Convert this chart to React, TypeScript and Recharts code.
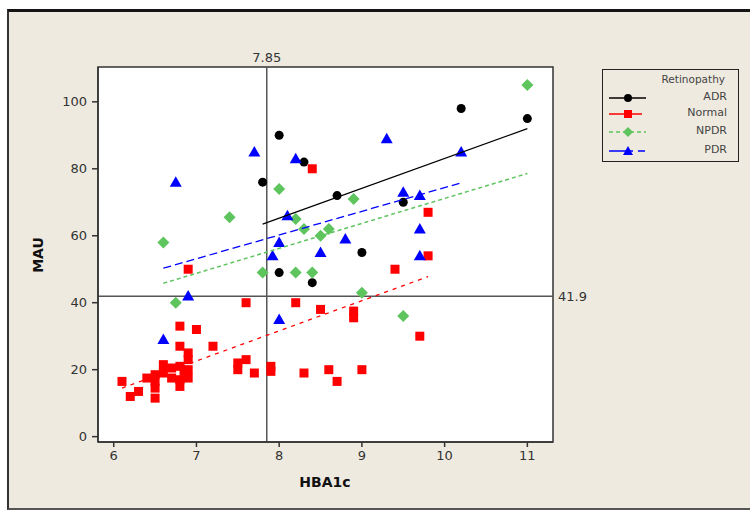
import React from "react";
import {
  ScatterChart,
  Scatter,
  XAxis,
  YAxis,
  CartesianGrid,
  ReferenceLine,
  ReferenceArea
} from "recharts";

// HbA1c vs MAU by retinopathy group, [HBA1c, MAU]
const adrPoints: [number, number][] = [
  [7.8, 76], [8.0, 90], [8.3, 82], [8.0, 49], [8.4, 46],
  [8.7, 72], [9.0, 55], [9.5, 70], [10.2, 98], [11.0, 95]
];

const normalPoints: [number, number][] = [
  [8.4, 80], [9.8, 67], [9.8, 54], [6.9, 50], [9.4, 50], [7.6, 40], [8.2, 40],
  [8.5, 38], [8.9, 37.5], [8.9, 35.5], [9.7, 30],
  [7.2, 27], [7.5, 22], [7.5, 20], [7.6, 23], [7.7, 19], [7.9, 21], [7.9, 19.5],
  [8.3, 19], [8.6, 20], [8.7, 16.5], [9.0, 20],
  [6.1, 16.5], [6.2, 12], [6.3, 13.5], [6.4, 17.5], [6.5, 11.5], [6.5, 14.5],
  [6.5, 16.5], [6.5, 18.5], [6.6, 21.5], [6.6, 19], [6.7, 20.5], [6.7, 17.5],
  [6.8, 33], [7.0, 32], [6.8, 27], [6.9, 25], [6.9, 23], [6.8, 21], [6.85, 19.5],
  [6.8, 17], [6.9, 17.5], [6.8, 15], [6.9, 20]
];

const npdrPoints: [number, number][] = [
  [11.0, 105], [8.0, 74], [7.4, 65.5], [8.2, 65], [8.9, 71], [8.3, 62], [8.6, 62],
  [8.5, 60], [6.6, 58], [7.8, 49], [8.2, 49], [8.4, 49], [6.75, 40], [9.0, 43], [9.5, 36]
];

const pdrPoints: [number, number][] = [
  [7.7, 85], [6.75, 76], [8.2, 83], [9.3, 89], [10.2, 85], [8.1, 66], [8.0, 58],
  [7.92, 54], [8.5, 55], [8.8, 59], [9.5, 73], [9.7, 72], [9.7, 62], [9.7, 54],
  [6.9, 42], [8.0, 35], [6.6, 29]
];

// fitted regression lines (end points)
const adrFit: [number, number][] = [[7.8, 63.5], [11.0, 92]];
const normalFit: [number, number][] = [[6.1, 14.5], [9.8, 47.8]];
const npdrFit: [number, number][] = [[6.6, 45.8], [11.0, 78.6]];
const pdrFit: [number, number][] = [[6.6, 50.3], [10.2, 75.8]];

const xTicks = [6, 7, 8, 9, 10, 11];
const yTicks = [0, 20, 40, 60, 80, 100];
const hbaCut = 7.85;
const mauCut = 41.9;

const X_MIN = 5.81;
const X_MAX = 11.31;
const Y_MIN = -1.6;
const Y_MAX = 110.4;

const FONT = '"DejaVu Sans", Verdana, sans-serif';
const GREEN = "#5EC45E";

const toRows = (pts: [number, number][]) => pts.map(([x, y]) => ({ hba1c: x, mau: y }));

const Dot = (p: any) => <circle cx={p.cx} cy={p.cy} r={4.5} fill="#000" />;
const Square = (p: any) => <rect x={p.cx - 4.5} y={p.cy - 4.5} width={9} height={9} fill="#FF0000" />;
const Diamond = (p: any) => (
  <polygon
    points={`${p.cx},${p.cy - 6} ${p.cx + 6},${p.cy} ${p.cx},${p.cy + 6} ${p.cx - 6},${p.cy}`}
    fill={GREEN}
  />
);
const Triangle = (p: any) => (
  <polygon
    points={`${p.cx},${p.cy - 6} ${p.cx + 6},${p.cy + 4.5} ${p.cx - 6},${p.cy + 4.5}`}
    fill="#0000FF"
  />
);
const NoMark = () => <g />;

const tickStyle = { fill: "#333", fontSize: 13, fontFamily: FONT };

function LegendBox() {
  const rows = [
    { name: "ADR", color: "#000", dash: undefined, y: 28 },
    { name: "Normal", color: "#FF0000", dash: undefined, y: 44 },
    { name: "NPDR", color: GREEN, dash: "4 3", y: 62 },
    { name: "PDR", color: "#0000FF", dash: "24 5 7 100", y: 81 }
  ];
  return (
    <div
      style={{
        position: "absolute",
        left: 602,
        top: 69,
        width: 135,
        height: 91,
        border: "1.5px solid #222",
        fontFamily: FONT,
        color: "#444"
      }}
    >
      <div style={{ position: "absolute", right: 13, top: 3, fontSize: 10.5 }}>Retinopathy</div>
      <svg width={60} height={91} style={{ position: "absolute", left: 0, top: 0 }}>
        {rows.map((r) => (
          <g key={r.name}>
            <line
              x1={6}
              x2={r.name === "Normal" ? 39 : 43}
              y1={r.y}
              y2={r.y}
              stroke={r.color}
              strokeWidth={1.5}
              strokeDasharray={r.dash}
            />
            {r.name === "ADR" && <circle cx={25} cy={r.y} r={4} fill="#000" />}
            {r.name === "Normal" && <rect x={21} y={r.y - 4} width={8} height={8} fill="#FF0000" />}
            {r.name === "NPDR" && (
              <polygon points={`25,${r.y - 5} 30,${r.y} 25,${r.y + 5} 20,${r.y}`} fill={GREEN} />
            )}
            {r.name === "PDR" && (
              <polygon points={`25,${r.y - 5} 30,${r.y + 4} 20,${r.y + 4}`} fill="#0000FF" />
            )}
          </g>
        ))}
      </svg>
      {rows.map((r) => (
        <div
          key={r.name}
          style={{ position: "absolute", right: 11, top: r.y - 8, fontSize: 11, lineHeight: "14px" }}
        >
          {r.name}
        </div>
      ))}
    </div>
  );
}

export default function App() {
  return (
    <div
      style={{
        position: "absolute",
        left: 0,
        top: 0,
        width: 750,
        height: 510,
        background: "#fff",
        overflow: "hidden",
        fontFamily: FONT
      }}
    >
      <div
        style={{
          position: "absolute",
          left: 7,
          top: 9,
          width: 760,
          height: 496,
          background: "#EFEAE0",
          borderTop: "3px solid #151515",
          borderLeft: "2px solid #333",
          borderBottom: "2px solid #555"
        }}
      />
      <div style={{ position: "absolute", left: 0, top: 0 }}>
        <ScatterChart width={750} height={510} margin={{ top: 67, right: 197, bottom: 38, left: 0 }}>
          <CartesianGrid horizontal={false} vertical={false} fill="#fff" />
          <XAxis
            type="number"
            dataKey="hba1c"
            domain={[X_MIN, X_MAX]}
            ticks={xTicks}
            allowDataOverflow
            height={30}
            tickSize={5}
            tickMargin={4}
            stroke="#333"
            strokeWidth={1.5}
            tick={tickStyle}
          />
          <YAxis
            type="number"
            dataKey="mau"
            domain={[Y_MIN, Y_MAX]}
            ticks={yTicks}
            allowDataOverflow
            width={98}
            tickSize={6}
            tickMargin={5}
            stroke="#333"
            strokeWidth={1.5}
            tick={tickStyle}
          />
          <ReferenceArea
            x1={X_MIN}
            x2={X_MAX}
            y1={Y_MIN}
            y2={Y_MAX}
            fill="none"
            stroke="#333"
            strokeWidth={1.5}
            ifOverflow="visible"
          />
          <ReferenceLine
            x={hbaCut}
            stroke="#555"
            strokeWidth={1.5}
            label={{ value: "7.85", position: "top", fill: "#333", fontSize: 13, fontFamily: FONT }}
          />
          <ReferenceLine
            y={mauCut}
            stroke="#555"
            strokeWidth={1.5}
            label={{ value: "41.9", position: "right", fill: "#333", fontSize: 13, fontFamily: FONT }}
          />
          <Scatter data={toRows(adrPoints)} shape={Dot} isAnimationActive={false} />
          <Scatter data={toRows(normalPoints)} shape={Square} isAnimationActive={false} />
          <Scatter data={toRows(npdrPoints)} shape={Diamond} isAnimationActive={false} />
          <Scatter data={toRows(pdrPoints)} shape={Triangle} isAnimationActive={false} />
          <Scatter
            data={toRows(adrFit)}
            line={{ stroke: "#000", strokeWidth: 1.3 }}
            shape={NoMark}
            isAnimationActive={false}
          />
          <Scatter
            data={toRows(normalFit)}
            line={{ stroke: "#FF0000", strokeWidth: 1.3, strokeDasharray: "4 5" }}
            shape={NoMark}
            isAnimationActive={false}
          />
          <Scatter
            data={toRows(npdrFit)}
            line={{ stroke: GREEN, strokeWidth: 1.5, strokeDasharray: "4 3" }}
            shape={NoMark}
            isAnimationActive={false}
          />
          <Scatter
            data={toRows(pdrFit)}
            line={{ stroke: "#0000FF", strokeWidth: 1.3, strokeDasharray: "8 4" }}
            shape={NoMark}
            isAnimationActive={false}
          />
        </ScatterChart>
      </div>
      <div
        style={{
          position: "absolute",
          left: 38,
          top: 255,
          transform: "translate(-50%, -50%) rotate(-90deg)",
          fontWeight: "bold",
          fontSize: 14,
          color: "#111",
          whiteSpace: "nowrap"
        }}
      >
        MAU
      </div>
      <div
        style={{
          position: "absolute",
          left: 325,
          top: 482,
          transform: "translate(-50%, -50%)",
          fontWeight: "bold",
          fontSize: 14,
          color: "#111",
          whiteSpace: "nowrap"
        }}
      >
        HBA1c
      </div>
      <LegendBox />
    </div>
  );
}
